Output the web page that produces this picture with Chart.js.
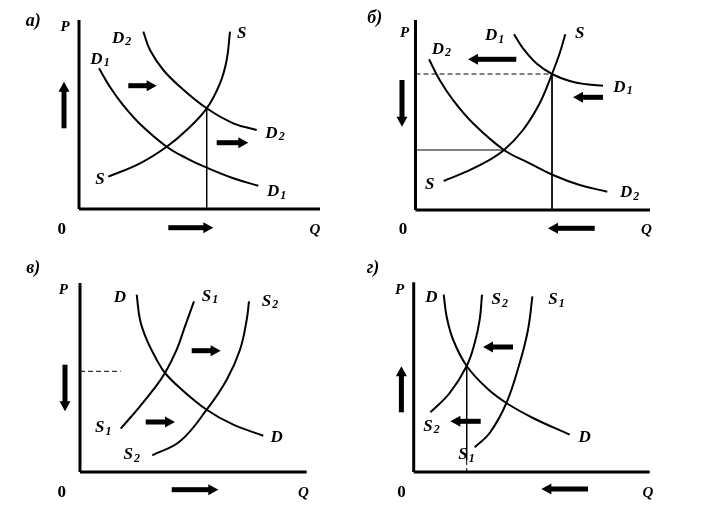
<!DOCTYPE html>
<html>
<head>
<meta charset="utf-8">
<script src="https://cdn.jsdelivr.net/npm/chart.js@4/dist/chart.umd.min.js"></script>
<style>
  body { margin: 0; background: #fff; width: 706px; height: 507px; position: relative; overflow: hidden; }
  canvas { position: absolute; }
</style>
</head>
<body>
<canvas id="pa" width="353" height="253" style="left:0;top:0"></canvas>
<canvas id="pb" width="353" height="253" style="left:353px;top:0"></canvas>
<canvas id="pv" width="353" height="254" style="left:0;top:253px"></canvas>
<canvas id="pg" width="353" height="254" style="left:353px;top:253px"></canvas>
<script>
// curve points [Q, P] (1 unit ~ 10 px)
// а) demand shifts right
const aD1 = [[2.0,14.07],[3.1,12.2],[4.4,10.4],[6.1,8.5],[8.77,6.23],[10.77,5.07],[12.77,4.13],[15.43,3.07],[17.93,2.33]];
const aD2 = [[6.43,17.73],[7.1,15.9],[8.43,13.9],[10.1,12.23],[12.77,10.07],[15.43,8.57],[17.77,7.9]];
const aS  = [[2.93,3.23],[6.1,4.57],[8.77,6.23],[10.77,7.9],[12.77,10.07],[14.1,12.57],[14.77,14.9],[15.1,17.73]];
// б) demand shifts left
const bD1 = [[9.85,17.57],[10.75,16.17],[12.08,14.67],[13.65,13.6],[15.42,12.9],[17.08,12.57],[18.75,12.43]];
const bD2 = [[1.35,15.07],[2.42,13.0],[3.75,11.0],[5.75,8.67],[8.85,6.0],[11.42,4.67],[13.75,3.5],[16.42,2.5],[19.18,1.83]];
const bS  = [[2.82,2.9],[5.08,3.83],[7.08,4.83],[8.85,6.0],[10.75,8.0],[12.42,10.67],[13.65,13.6],[14.42,15.67],[14.98,17.57]];
// в) supply shifts right
const vD  = [[5.67,17.73],[6.0,15.23],[6.67,13.23],[7.67,11.23],[8.5,9.9],[10.0,8.4],[12.67,6.23],[15.33,4.73],[18.33,3.63]];
const vS1 = [[4.07,4.33],[6.0,6.57],[7.33,8.23],[8.5,9.9],[9.67,12.23],[10.5,14.57],[11.4,17.07]];
const vS2 = [[7.23,1.67],[10.0,3.07],[12.67,6.23],[14.67,9.23],[16.0,12.23],[16.67,15.23],[16.9,17.07]];
// г) supply shifts left
const gD  = [[3.0,17.73],[3.3,15.5],[3.95,13.2],[5.3,10.6],[7.3,8.4],[9.27,6.9],[11.93,5.4],[15.6,3.73]];
const gS2 = [[1.67,5.97],[3.6,7.9],[5.3,10.6],[6.1,12.9],[6.6,15.23],[6.83,17.73]];
const gS1 = [[6.1,2.47],[7.6,3.9],[9.27,6.9],[10.6,10.9],[11.43,14.23],[11.87,17.57]];

// axis ends [Qmax, Pmax]
const axisEnds = { a: [24.1, 18.9], b: [23.45, 19.0], v: [22.67, 18.9], g: [23.6, 18.97] };

// guide lines [Q1, P1, Q2, P2, dashed]
const aGuides = [[12.77,10.07,12.77,0,false]];
const bGuides = [[0,13.6,13.65,13.6,true],[13.65,13.6,13.65,0,false],[0,6.0,8.85,6.0,false]];
const vGuides = [[0,10.07,4.07,10.07,true]];
const gGuides = [[5.3,10.6,5.3,1.2,false],[5.3,1.2,5.3,0,true]];

// shift arrows [Q tail, P tail, Q tip, P tip]
const aArrows = [[4.93,12.33,7.77,12.33],[13.77,6.63,16.93,6.63],[-1.5,8.07,-1.5,12.73],[8.93,-1.87,13.43,-1.87]];
const bArrows = [[10.08,15.07,5.25,15.07],[18.75,11.27,15.75,11.27],[-1.35,13.0,-1.35,8.33],[17.92,-1.83,13.25,-1.83]];
const vArrows = [[11.17,12.13,14.07,12.13],[6.57,5.0,9.5,5.0],[-1.5,10.73,-1.5,6.07],[9.17,-1.77,13.83,-1.77]];
const gArrows = [[9.93,12.5,6.93,12.5],[6.7,5.07,3.67,5.07],[-1.23,5.97,-1.23,10.57],[17.43,-1.7,12.77,-1.7]];

// text labels [text, subscript, Q, P, kind]
const aLabels = [['а)','',-4.57,18.73,'title'],['P','',-1.4,18.17,'axis'],['0','',-1.73,-2.1,'zero'],['Q','',23.6,-2.1,'axis'],
  ['D','2',4.27,17.07,'curve'],['D','1',2.1,14.97,'curve'],['S','',16.27,17.57,'curve'],['D','2',19.6,7.57,'curve'],['D','1',19.77,1.73,'curve'],['S','',2.1,2.9,'curve']];
const bLabels = [['б)','',-4.08,19.17,'title'],['P','',-1.08,17.67,'axis'],['0','',-1.25,-2.0,'zero'],['Q','',23.08,-2.0,'axis'],
  ['D','1',7.92,17.4,'curve'],['S','',16.42,17.67,'curve'],['D','2',2.58,16.07,'curve'],['D','1',20.75,12.27,'curve'],['D','2',21.42,1.73,'curve'],['S','',1.42,2.5,'curve']];
const vLabels = [['в)','',-4.67,20.4,'title'],['P','',-1.67,18.23,'axis'],['0','',-1.83,-2.1,'zero'],['Q','',22.33,-2.1,'axis'],
  ['D','',4.0,17.4,'curve'],['S','1',13.0,17.57,'curve'],['S','2',19.0,17.07,'curve'],['S','1',2.33,4.4,'curve'],['S','2',5.17,1.73,'curve'],['D','',19.67,3.4,'curve']];
const gLabels = [['г)','',-4.07,20.4,'title'],['P','',-1.4,18.23,'axis'],['0','',-1.23,-2.1,'zero'],['Q','',23.43,-2.1,'axis'],
  ['D','',1.77,17.4,'curve'],['S','2',8.6,17.23,'curve'],['S','1',14.27,17.23,'curve'],['S','2',1.77,4.57,'curve'],['S','1',5.27,1.73,'curve'],['D','',17.1,3.4,'curve']];

const SERIF = '"Liberation Serif", "DejaVu Serif", serif';
const fonts = {
  title: ['bold italic 18px ' + SERIF, 'bold italic 12px ' + SERIF],
  axis:  ['bold italic 15px ' + SERIF, 'bold italic 10px ' + SERIF],
  zero:  ['bold 17px ' + SERIF, 'bold 10px ' + SERIF],
  curve: ['bold italic 17px ' + SERIF, 'bold italic 12px ' + SERIF]
};

const extras = {
  id: 'extras',
  afterDatasetsDraw(chart, args, opts) {
    const ctx = chart.ctx, xs = chart.scales.x, ys = chart.scales.y;
    const px = v => xs.getPixelForValue(v), py = v => ys.getPixelForValue(v);
    ctx.save();
    ctx.fillStyle = '#000';
    (opts.arrows || []).forEach(([q1, p1, q2, p2]) => {
      const X1 = px(q1), Y1 = py(p1), X2 = px(q2), Y2 = py(p2);
      const len = Math.hypot(X2 - X1, Y2 - Y1);
      ctx.save();
      ctx.translate(X1, Y1);
      ctx.rotate(Math.atan2(Y2 - Y1, X2 - X1));
      ctx.fillRect(0, -2.5, len - 9, 5);
      ctx.beginPath();
      ctx.moveTo(len, 0);
      ctx.lineTo(len - 10, -5.5);
      ctx.lineTo(len - 10, 5.5);
      ctx.closePath();
      ctx.fill();
      ctx.restore();
    });
    ctx.textBaseline = 'middle';
    ctx.textAlign = 'left';
    (opts.labels || []).forEach(([t, sub, q, p, kind]) => {
      const [f1, f2] = fonts[kind];
      ctx.font = f1;
      const w1 = ctx.measureText(t).width;
      ctx.font = f2;
      const w2 = sub ? ctx.measureText(sub).width + 1 : 0;
      const x0 = px(q) - (w1 + w2) / 2, y0 = py(p);
      ctx.font = f1;
      ctx.fillText(t, x0, y0);
      if (sub) {
        ctx.font = f2;
        ctx.fillText(sub, x0 + w1 + 1, y0 + 4);
      }
    });
    ctx.restore();
  }
};

function curve(pts, width) {
  return {
    data: pts.map(([x, y]) => ({ x, y })),
    showLine: true, borderColor: '#000', borderWidth: width,
    tension: 0.4, pointRadius: 0
  };
}
function straight(q1, p1, q2, p2, width, dashed) {
  return {
    data: [{ x: q1, y: p1 }, { x: q2, y: p2 }],
    showLine: true, borderColor: '#000', borderWidth: width,
    borderDash: dashed ? [5, 3] : [], tension: 0, pointRadius: 0
  };
}

// panel placement: canvas box and pixel of the origin
function panel(id, box, origin, ends, curves, guides, arrows, labels) {
  const [left, top, w, h] = box, [ox, oy] = origin;
  const datasets = [
    straight(0, 0, 0, ends[1], 3, false),
    straight(0, 0, ends[0], 0, 3, false)
  ];
  guides.forEach(g => datasets.push(straight(g[0], g[1], g[2], g[3], 1, g[4])));
  curves.forEach(c => datasets.push(curve(c, 2)));
  new Chart(document.getElementById(id), {
    type: 'scatter',
    data: { datasets },
    options: {
      responsive: false, animation: false,
      layout: { padding: 0 },
      plugins: { legend: { display: false }, tooltip: { enabled: false }, extras: { arrows, labels } },
      scales: {
        x: { type: 'linear', display: false, min: (left - ox) / 10, max: (left + w - ox) / 10 },
        y: { type: 'linear', display: false, min: (oy - top - h) / 10, max: (oy - top) / 10 }
      }
    },
    plugins: [extras]
  });
}

panel('pa', [0, 0, 353, 253], [79, 209], axisEnds.a, [aD1, aD2, aS], aGuides, aArrows, aLabels);
panel('pb', [353, 0, 353, 253], [415.5, 210], axisEnds.b, [bD1, bD2, bS], bGuides, bArrows, bLabels);
panel('pv', [0, 253, 353, 254], [80, 472], axisEnds.v, [vD, vS1, vS2], vGuides, vArrows, vLabels);
panel('pg', [353, 253, 353, 254], [413.7, 472], axisEnds.g, [gD, gS2, gS1], gGuides, gArrows, gLabels);
</script>
</body>
</html>
